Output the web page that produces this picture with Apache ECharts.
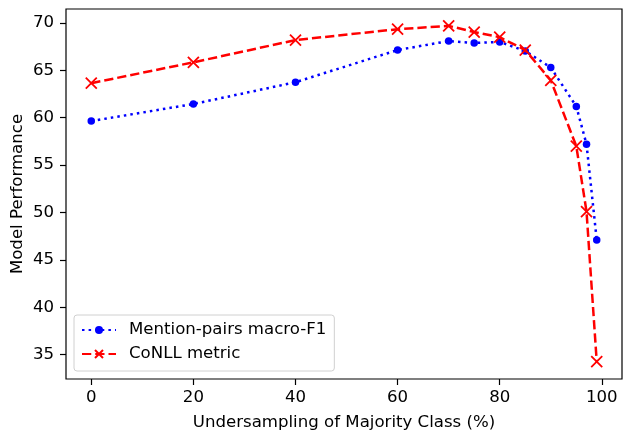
<!DOCTYPE html>
<html><head><meta charset="utf-8">
<script src="https://cdn.jsdelivr.net/npm/echarts@6/dist/echarts.min.js"></script>
<style>html,body{margin:0;padding:0;background:#fff}#c{width:623px;height:431px}</style>
</head><body><div id="c"></div>
<script>
const xValues = [0, 20, 40, 60, 70, 75, 80, 85, 90, 95, 97, 99];
const mentionPairs = [59.65, 61.45, 63.75, 67.15, 68.1, 67.9, 68.0, 67.05, 65.3, 61.2, 57.2, 47.1];
const conll = [63.65, 65.85, 68.2, 69.35, 69.7, 69.05, 68.5, 67.15, 63.95, 57.0, 50.1, 34.25];
const xTicks = [0, 20, 40, 60, 80, 100];
const yTicks = [35, 40, 45, 50, 55, 60, 65, 70];
const seriesNames = ['Mention-pairs macro-F1', 'CoNLL metric'];

const font = 'DejaVu Sans';
const fs = 16.6;
const chart = echarts.init(document.getElementById('c'), null, {renderer: 'canvas'});
const pair = (ys) => xValues.map((x, i) => [x, ys[i]]);
chart.setOption({
  animation: false,
  backgroundColor: '#fff',
  grid: {left: 66, right: 1, top: 9, bottom: 52, show: true, borderColor: '#000', borderWidth: 1.2, backgroundColor: 'transparent', containLabel: false, outerBoundsMode: 'none'},
  xAxis: {
    type: 'value', min: -4.95, max: 103.95,
    name: 'Undersampling of Majority Class (%)', nameLocation: 'middle', nameGap: 35.5, nameMoveOverlap: false,
    nameTextStyle: {fontFamily: font, fontSize: fs, color: '#000'},
    axisLine: {show: false, onZero: false},
    axisTick: {show: true, inside: false, length: 6, lineStyle: {color: '#000', width: 1.2}, customValues: xTicks},
    axisLabel: {fontFamily: font, fontSize: fs, color: '#000', margin: 10, customValues: xTicks},
    splitLine: {show: false}
  },
  yAxis: {
    type: 'value', min: 32.42, max: 71.48,
    name: 'Model Performance', nameLocation: 'middle', nameGap: 40, nameMoveOverlap: false,
    nameTextStyle: {fontFamily: font, fontSize: fs, color: '#000'},
    axisLine: {show: false, onZero: false},
    axisTick: {show: true, inside: false, length: 6, lineStyle: {color: '#000', width: 1.2}, customValues: yTicks},
    axisLabel: {fontFamily: font, fontSize: fs, color: '#000', margin: 12, customValues: yTicks},
    splitLine: {show: false}
  },
  legend: {
    orient: 'vertical', left: 74, top: 315,
    padding: [6.5, 8, 8.5, 7], itemGap: 7, itemWidth: 34, itemHeight: 10,
    backgroundColor: '#fff', borderColor: '#d0d0d0', borderWidth: 1, borderRadius: 3,
    textStyle: {fontFamily: font, fontSize: fs, color: '#000', lineHeight: 17, padding: [0, 0, 0, 8]},
    data: seriesNames
  },
  series: [
    {
      name: seriesNames[0], type: 'line', data: pair(mentionPairs),
      symbol: 'circle', symbolSize: 7.5, showAllSymbol: true,
      lineStyle: {color: '#0000ff', width: 2.5, type: [2.5, 4.1], cap: 'butt'},
      itemStyle: {color: '#0000ff'}, z: 2
    },
    {
      name: seriesNames[1], type: 'line', data: pair(conll),
      symbol: 'path://M0,0L10,10M10,0L0,10', symbolSize: 11, showAllSymbol: true,
      lineStyle: {color: '#ff0000', width: 2.5, type: [9.25, 4]},
      itemStyle: {color: '#ff0000', borderColor: '#ff0000', borderWidth: 1.8}, z: 3
    }
  ]
});
</script></body></html>
